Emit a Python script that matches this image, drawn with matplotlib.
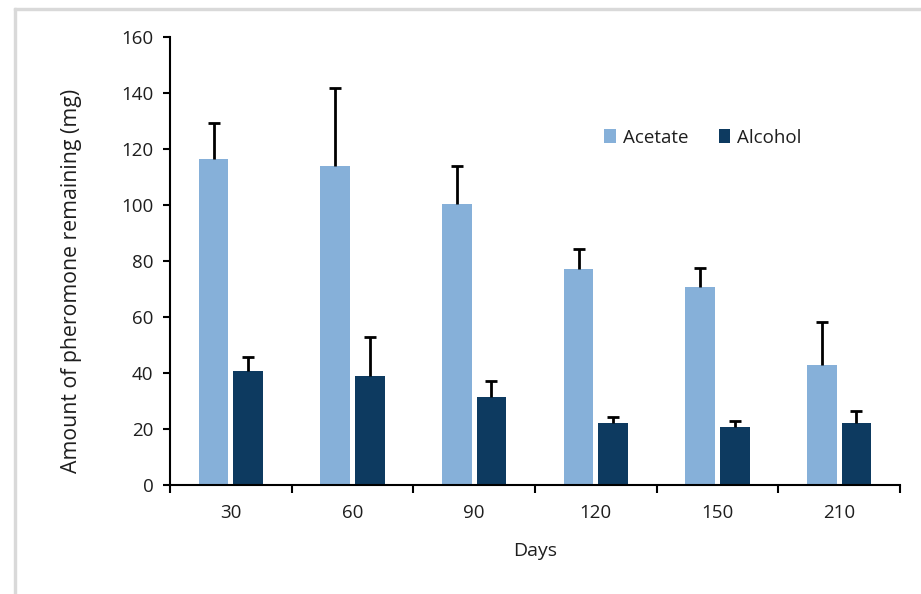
import numpy as np
import matplotlib.pyplot as plt
from matplotlib.patches import Rectangle

# values
days = ['30', '60', '90', '120', '150', '210']
acetate = [116.4, 113.9, 100.4, 77.0, 70.8, 42.9]
acetate_err = [12.9, 27.9, 13.5, 7.3, 6.8, 15.2]
alcohol = [40.7, 38.9, 31.4, 22.0, 20.8, 22.0]
alcohol_err = [5.0, 14.0, 5.7, 2.4, 1.9, 4.4]

plt.rcParams['font.family'] = ['Open Sans', 'DejaVu Sans']
txt = '#1e1e1e'

fig = plt.figure(figsize=(9.21, 5.94), dpi=100)
ax = fig.add_axes([0.1846, 0.1835, 0.7926, 0.7542])

x = np.arange(len(days))
w = 0.245
err_kw = dict(ecolor='black', elinewidth=2, capsize=4, capthick=2)
bars1 = ax.bar(x - 0.142, acetate, w, color='#86B0D9', label='Acetate',
               yerr=[np.zeros(len(days)), acetate_err], error_kw=err_kw)
bars2 = ax.bar(x + 0.142, alcohol, w, color='#0D3A60', label='Alcohol',
               yerr=[np.zeros(len(days)), alcohol_err], error_kw=err_kw)
# only upper error bars: hide the lower caps
for b in (bars1, bars2):
    caps = b.errorbar.lines[1]
    caps[0].set_visible(False)

ax.set_xlim(-0.5, len(days) - 0.5)
ax.set_ylim(0, 160)
ax.set_yticks(np.arange(0, 161, 20))
ax.set_xticks(x)
ax.set_xticklabels(days)
# category boundary ticks like a spreadsheet chart
ax.set_xticks(np.arange(-0.5, len(days)), minor=True)
ax.tick_params(axis='x', which='major', length=0, pad=14)
ax.tick_params(axis='x', which='minor', length=6, width=1.5, direction='out')
ax.tick_params(axis='y', length=5, width=1.5, direction='out', pad=7)
ax.tick_params(labelsize=13.5, colors=txt)
ax.tick_params(axis='both', which='both', color='black')

for s in ['top', 'right']:
    ax.spines[s].set_visible(False)
for s in ['left', 'bottom']:
    ax.spines[s].set_linewidth(1.5)

ax.set_xlabel('Days', fontsize=14, labelpad=14, color=txt)
ax.set_ylabel('Amount of pheromone remaining (mg)', fontsize=15.3, labelpad=28,
              color=txt, y=0.455)

ax.legend(loc='center left', bbox_to_anchor=(0.572, 0.775), ncol=2, frameon=False,
          fontsize=13.5, handlelength=0.6, handleheight=0.75, handletextpad=0.4,
          columnspacing=1.6, labelcolor=txt)

# thin grey frame on the left and top edge of the image
fig.patches.append(Rectangle((14 / 921, 0), 2 / 921, 1 - 8 / 594,
                             transform=fig.transFigure, color='#d9d9d9', zorder=0))
fig.patches.append(Rectangle((14 / 921, 1 - 10 / 594), 1, 2 / 594,
                             transform=fig.transFigure, color='#d9d9d9', zorder=0))

fig.savefig('out.png', dpi=100)
